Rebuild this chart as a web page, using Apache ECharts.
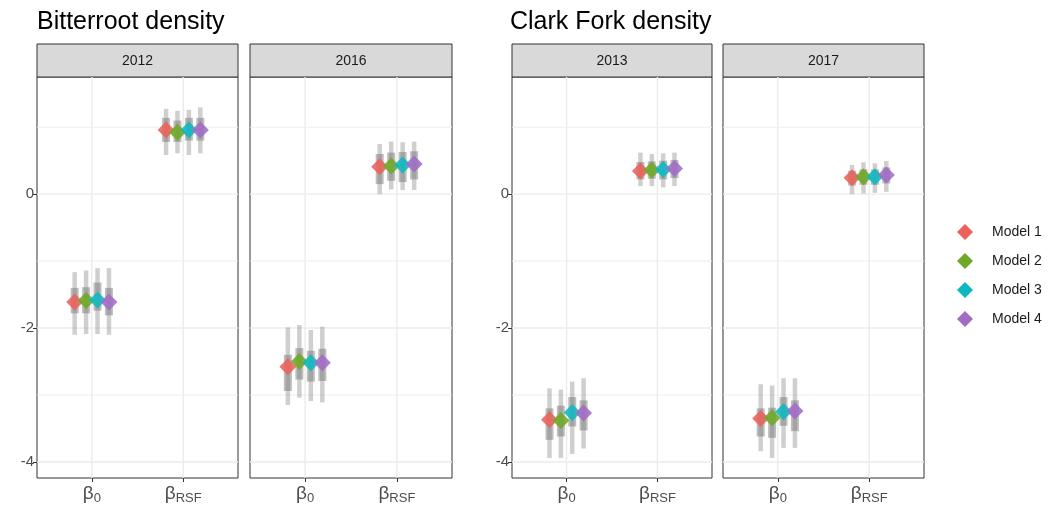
<!DOCTYPE html>
<html>
<head>
<meta charset="utf-8">
<script src="https://cdn.jsdelivr.net/npm/echarts@6/dist/echarts.min.js"></script>
<style>
  html, body { margin: 0; padding: 0; background: #fff; }
  #chart { width: 1049px; height: 514px; }
</style>
</head>
<body>
<div id="chart"></div>
<script>
// Facet titles, panel strips and models
const groupTitles = ['Bitterroot density', 'Clark Fork density'];
const panelYears = ['2012', '2016', '2013', '2017'];
const models = ['Model 1', 'Model 2', 'Model 3', 'Model 4'];
const modelColors = ['#EC625B', '#6EA826', '#0CB8C0', '#A06CC6'];
const paramNames = ['0', 'RSF'];        // subscripts of beta
const yTickValues = [-4, -2, 0];

// Each row is one model: [estimate, innerLow, innerHigh, outerLow, outerHigh]
const b0_2012 = [
  [-1.61, -1.78, -1.40, -2.10, -1.165],
  [-1.59, -1.78, -1.39, -2.09, -1.14],
  [-1.58, -1.74, -1.32, -2.09, -1.105],
  [-1.61, -1.81, -1.40, -2.10, -1.105]
];
const rsf_2012 = [
  [0.96, 0.78, 1.14, 0.585, 1.275],
  [0.925, 0.78, 1.10, 0.61, 1.245],
  [0.96, 0.80, 1.14, 0.585, 1.26],
  [0.96, 0.80, 1.14, 0.61, 1.295]
];
const b0_2016 = [
  [-2.58, -2.94, -2.40, -3.15, -1.99],
  [-2.50, -2.77, -2.30, -3.04, -1.955],
  [-2.52, -2.80, -2.34, -3.09, -2.03],
  [-2.52, -2.79, -2.31, -3.11, -1.98]
];
const rsf_2016 = [
  [0.41, 0.15, 0.60, 0.0, 0.75],
  [0.42, 0.20, 0.62, 0.07, 0.785],
  [0.435, 0.18, 0.63, 0.06, 0.775],
  [0.45, 0.22, 0.64, 0.06, 0.785]
];
const b0_2013 = [
  [-3.37, -3.67, -3.20, -3.94, -2.90],
  [-3.38, -3.62, -3.16, -3.94, -2.92],
  [-3.26, -3.47, -3.03, -3.88, -2.80],
  [-3.27, -3.53, -3.08, -3.80, -2.75]
];
const rsf_2013 = [
  [0.345, 0.22, 0.48, 0.12, 0.62],
  [0.36, 0.23, 0.49, 0.12, 0.60],
  [0.37, 0.22, 0.50, 0.10, 0.61],
  [0.385, 0.24, 0.51, 0.12, 0.62]
];
const b0_2017 = [
  [-3.35, -3.62, -3.20, -3.84, -2.84],
  [-3.34, -3.64, -3.19, -3.94, -2.86],
  [-3.25, -3.46, -3.03, -3.79, -2.75],
  [-3.24, -3.54, -3.08, -3.79, -2.75]
];
const rsf_2017 = [
  [0.245, 0.13, 0.35, 0.0, 0.435],
  [0.26, 0.14, 0.37, 0.01, 0.475],
  [0.26, 0.14, 0.37, 0.02, 0.46],
  [0.285, 0.16, 0.40, 0.035, 0.495]
];

const panelData = [
  [b0_2012, rsf_2012],
  [b0_2016, rsf_2016],
  [b0_2013, rsf_2013],
  [b0_2017, rsf_2017]
];

// Layout of the four panels (px)
const panelBoxes = [
  { left: 37, width: 201 },
  { left: 250, width: 202 },
  { left: 512, width: 200 },
  { left: 723, width: 201 }
];
const panelTop = 77, panelBottom = 478, stripTop = 44;
const xMin = 0.4, xMax = 2.6, yMin = -4.24, yMax = 1.75;
const dodge = [-0.1875, -0.0625, 0.0625, 0.1875];

const chart = echarts.init(document.getElementById('chart'), null, { renderer: 'canvas' });

const grids = [], xAxes = [], yAxes = [], series = [], graphics = [];

panelBoxes.forEach((box, g) => {
  grids.push({
    left: box.left, top: panelTop, width: box.width, height: panelBottom - panelTop,
    show: true, borderColor: '#333333', borderWidth: 1, backgroundColor: '#ffffff',
    containLabel: false
  });
  xAxes.push({
    gridIndex: g, type: 'value', min: xMin, max: xMax, position: 'bottom',
    axisLine: { show: false, onZero: false },
    splitLine: { show: false },
    axisTick: { show: true, customValues: [1, 2], length: 4, lineStyle: { color: '#333333', width: 1 } },
    axisLabel: {
      show: true, customValues: [1, 2], margin: 5,
      formatter: v => '{b|β}{s|' + paramNames[Math.round(v) - 1] + '}',
      rich: {
        b: { fontFamily: 'Liberation Sans', fontSize: 19, color: '#4d4d4d', lineHeight: 22 },
        s: { fontFamily: 'Liberation Sans', fontSize: 13, color: '#4d4d4d', lineHeight: 22, padding: [9, 0, 0, 0] }
      }
    }
  });
  const showY = (g === 0 || g === 2);
  yAxes.push({
    gridIndex: g, type: 'value', min: yMin, max: yMax, position: 'left',
    axisLine: { show: false, onZero: false },
    splitLine: { show: false },
    axisTick: { show: showY, customValues: yTickValues, length: 4, lineStyle: { color: '#333333', width: 1 } },
    axisLabel: {
      show: showY, customValues: yTickValues, margin: 3,
      fontFamily: 'Liberation Sans', fontSize: 15, color: '#4d4d4d'
    }
  });

  // background grid lines (major at ticks, minor between)
  const gridLines = [
    ['h', 1, 0], ['h', 0, 1], ['h', -1, 0], ['h', -2, 1], ['h', -3, 0], ['h', -4, 1],
    ['v', 1, 1], ['v', 2, 1]
  ];
  series.push({
    type: 'custom', xAxisIndex: g, yAxisIndex: g, silent: true, z: 1,
    data: gridLines.map(d => [d[1], d[2]]),
    renderItem: (params, api) => {
      const item = gridLines[params.dataIndex];
      const v = item[1];
      let p1, p2;
      if (item[0] === 'h') { p1 = api.coord([xMin, v]); p2 = api.coord([xMax, v]); }
      else { p1 = api.coord([v, yMin]); p2 = api.coord([v, yMax]); }
      return {
        type: 'line',
        shape: { x1: p1[0], y1: p1[1], x2: p2[0], y2: p2[1] },
        style: { stroke: '#ebebeb', lineWidth: item[2] ? 1.4 : 0.9 }
      };
    }
  });

  // interval rows per model
  const rows = [];
  panelData[g].forEach((param, pi) => {
    param.forEach((r, m) => {
      rows.push({ x: pi + 1 + dodge[m], m, r });
    });
  });

  // outer (thin) intervals
  series.push({
    type: 'custom', xAxisIndex: g, yAxisIndex: g, silent: true, z: 2,
    data: rows.map(o => [o.x, o.r[3], o.r[4]]),
    renderItem: (params, api) => {
      const a = api.coord([api.value(0), api.value(1)]);
      const b = api.coord([api.value(0), api.value(2)]);
      return { type: 'line', shape: { x1: a[0], y1: a[1], x2: b[0], y2: b[1] },
        style: { stroke: 'rgba(140,140,140,0.42)', lineWidth: 4.5 } };
    }
  });
  // inner (thick) intervals
  series.push({
    type: 'custom', xAxisIndex: g, yAxisIndex: g, silent: true, z: 3,
    data: rows.map(o => [o.x, o.r[1], o.r[2]]),
    renderItem: (params, api) => {
      const a = api.coord([api.value(0), api.value(1)]);
      const b = api.coord([api.value(0), api.value(2)]);
      return { type: 'line', shape: { x1: a[0], y1: a[1], x2: b[0], y2: b[1] },
        style: { stroke: 'rgba(110,110,110,0.45)', lineWidth: 8 } };
    }
  });
  // point estimates
  models.forEach((name, m) => {
    series.push({
      type: 'scatter', name, xAxisIndex: g, yAxisIndex: g, z: 4,
      symbol: 'diamond', symbolSize: 17,
      itemStyle: { color: modelColors[m], opacity: 0.88 },
      data: rows.filter(o => o.m === m).map(o => [o.x, o.r[0]])
    });
  });

  // strip
  graphics.push({
    type: 'rect', shape: { x: box.left, y: stripTop, width: box.width, height: panelTop - stripTop },
    style: { fill: '#d9d9d9', stroke: '#333333', lineWidth: 1 }
  });
  graphics.push({
    type: 'text', x: box.left + box.width / 2, y: (stripTop + panelTop) / 2 + 1,
    style: { text: panelYears[g], textAlign: 'center', textVerticalAlign: 'middle',
      font: '14px "Liberation Sans"', fill: '#1a1a1a' }
  });
});

graphics.push({
  type: 'text', x: 37, y: 22,
  style: { text: groupTitles[0], textVerticalAlign: 'middle', font: '25px "Liberation Sans"', fill: '#000' }
});
graphics.push({
  type: 'text', x: 510, y: 22,
  style: { text: groupTitles[1], textVerticalAlign: 'middle', font: '25px "Liberation Sans"', fill: '#000' }
});

chart.setOption({
  animation: false,
  backgroundColor: '#ffffff',
  grid: grids,
  xAxis: xAxes,
  yAxis: yAxes,
  series,
  graphic: graphics,
  legend: {
    data: models.map((name, m) => ({ name, itemStyle: { color: modelColors[m], opacity: 1 } })),
    orient: 'vertical', left: 952, top: 219,
    icon: 'diamond', itemWidth: 16, itemHeight: 16, itemGap: 13,
    selectedMode: false,
    textStyle: { fontFamily: 'Liberation Sans', fontSize: 14, color: '#1a1a1a', padding: [0, 0, 0, 14] }
  }
});
</script>
</body>
</html>
